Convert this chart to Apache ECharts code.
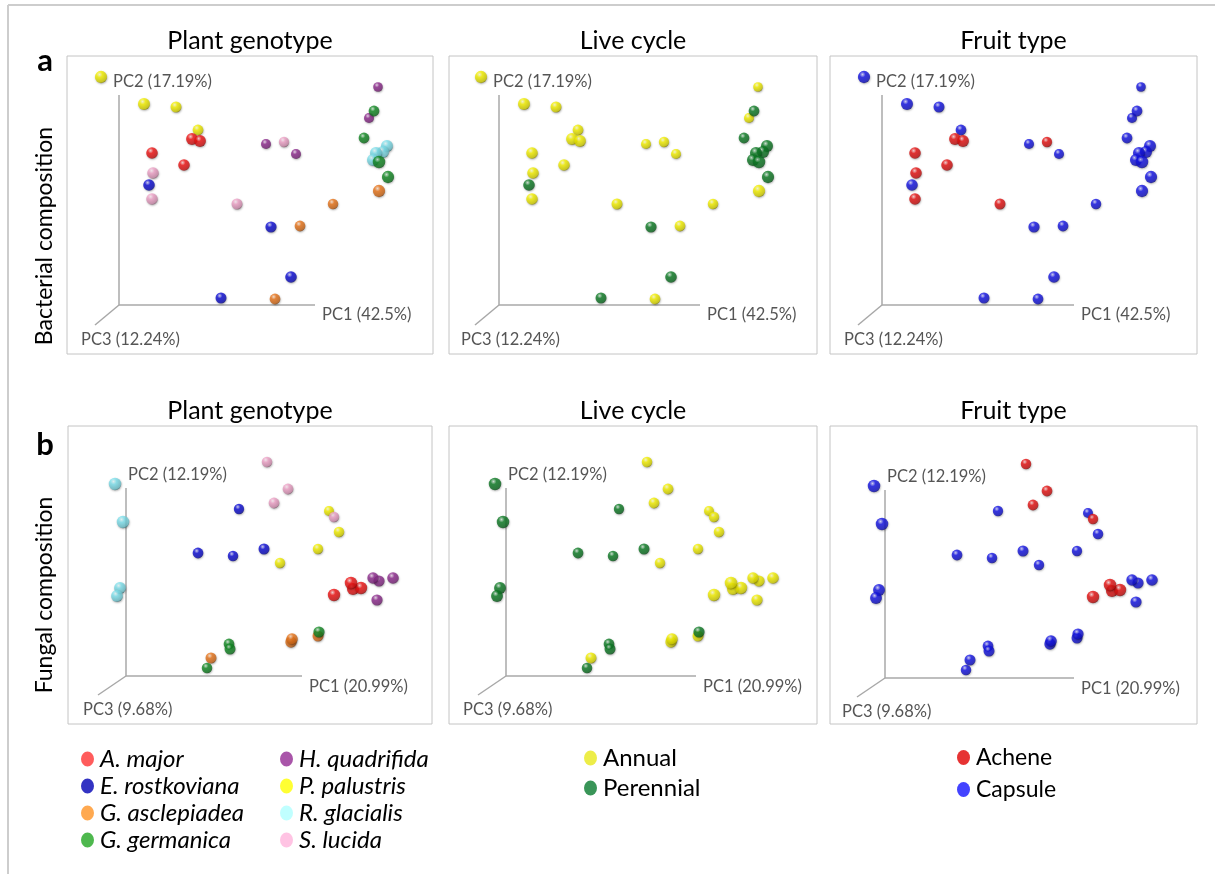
<!DOCTYPE html>
<html>
<head>
<meta charset="utf-8">
<script src="https://cdn.jsdelivr.net/npm/echarts@6/dist/echarts.min.js"></script>
<style>
  html, body { margin: 0; padding: 0; background: #ffffff; }
  #chart { width: 1215px; height: 874px; }
</style>
</head>
<body>
<div id="chart"></div>
<script>
// ---------------------------------------------------------------------------
// Host plants and their traits
// ---------------------------------------------------------------------------
const speciesNames = ['A. major', 'E. rostkoviana', 'G. asclepiadea', 'G. germanica',
                      'H. quadrifida', 'P. palustris', 'R. glacialis', 'S. lucida'];
const lifeCycleOf = {
  'A. major': 'Annual', 'E. rostkoviana': 'Perennial', 'G. asclepiadea': 'Annual',
  'G. germanica': 'Perennial', 'H. quadrifida': 'Annual', 'P. palustris': 'Annual',
  'R. glacialis': 'Perennial', 'S. lucida': 'Annual'
};
const fruitTypeOf = {
  'A. major': 'Achene', 'E. rostkoviana': 'Capsule', 'G. asclepiadea': 'Capsule',
  'G. germanica': 'Capsule', 'H. quadrifida': 'Capsule', 'P. palustris': 'Capsule',
  'R. glacialis': 'Capsule', 'S. lucida': 'Achene'
};
const lifeCycleNames = ['Annual', 'Perennial'];
const fruitTypeNames = ['Achene', 'Capsule'];

// ---------------------------------------------------------------------------
// Bacterial composition: PCoA ordination, projected onto the page plane
// (x = along PC1, y = along PC2, z = depth along PC3, larger = nearer)
// ---------------------------------------------------------------------------
const bacAxisNames = ['PC1 (42.5%)', 'PC2 (17.19%)', 'PC3 (12.24%)'];
const bacSpecies = [
  'P. palustris', 'P. palustris', 'P. palustris', 'P. palustris',
  'A. major', 'A. major', 'A. major', 'A. major',
  'S. lucida', 'E. rostkoviana', 'S. lucida', 'H. quadrifida',
  'S. lucida', 'H. quadrifida', 'S. lucida', 'E. rostkoviana',
  'G. asclepiadea', 'G. asclepiadea', 'E. rostkoviana', 'E. rostkoviana',
  'G. asclepiadea', 'H. quadrifida', 'G. germanica', 'H. quadrifida',
  'G. germanica', 'R. glacialis', 'R. glacialis', 'R. glacialis',
  'R. glacialis', 'G. germanica', 'G. germanica', 'G. asclepiadea'
];
const bacX = [-18, 25, 57, 79, 73, 81, 33, 65, 34, 30, 33, 147, 165, 177, 118, 152,
              181, 214, 172, 102, 156, 259, 255, 250, 245, 268, 264, 257, 254, 260, 269, 260];
const bacY = [228, 201, 198, 175, 166, 164, 152, 140, 132, 120, 106, 161, 163, 151, 101, 78,
              79, 101, 28, 7, 6, 218, 194, 187, 167, 159, 153, 152, 145, 143, 128, 114];
const bacZ = [3, 2.8, 1.8, 1.6, 2.6, 2.6, 2.4, 2.4, 2.4, 2.4, 2.4, 1, 1.2, 1, 1.8, 2,
              1.6, 1.4, 2.4, 1.8, 1.6, 0.6, 1.6, 1, 1.6, 2.8, 2.8, 2.8, 2.8, 3.2, 3, 3];

// ---------------------------------------------------------------------------
// Fungal composition: PCoA ordination, projected the same way
// ---------------------------------------------------------------------------
const funAxisNames = ['PC1 (20.99%)', 'PC2 (12.19%)', 'PC3 (9.68%)'];
const funSpecies = [
  'R. glacialis', 'R. glacialis', 'R. glacialis', 'R. glacialis',
  'S. lucida', 'S. lucida', 'S. lucida', 'E. rostkoviana',
  'P. palustris', 'S. lucida', 'P. palustris', 'E. rostkoviana',
  'E. rostkoviana', 'E. rostkoviana', 'P. palustris', 'P. palustris',
  'A. major', 'A. major', 'A. major', 'A. major',
  'H. quadrifida', 'H. quadrifida', 'H. quadrifida', 'H. quadrifida',
  'G. germanica', 'G. asclepiadea', 'G. asclepiadea', 'G. asclepiadea',
  'G. germanica', 'G. germanica', 'G. asclepiadea', 'G. germanica'
];
const funX = [-11, -3, -6, -9, 141, 162, 148, 113, 203, 208, 213, 72, 107, 138, 192, 154,
              225, 227, 235, 208, 247, 253, 267, 251, 193, 192, 166, 165, 103, 104, 85, 81];
const funY = [192, 154, 88, 80, 214, 187, 173, 167, 165, 159, 144, 123, 120, 127, 127, 113,
              93, 87, 88, 81, 98, 95, 98, 76, 44, 40, 37, 34, 32, 27, 18, 8];
const funZ = [3.2, 3.2, 2.6, 2.6, 1.4, 1.6, 1.6, 1.2, 1.0, 1.3, 1.4, 1.6, 1.4, 1.8, 1.2, 1.3,
              3.2, 2.8, 3.1, 3.1, 2.2, 2.0, 2.4, 2.0, 2.0, 1.8, 2.4, 2.2, 1.6, 1.8, 1.8, 1.4];

// Panel and row headings
const panelTitles = ['Plant genotype', 'Live cycle', 'Fruit type'];
const rowLetters = ['a', 'b'];
const rowTitles = ['Bacterial composition', 'Fungal composition'];

// ---------------------------------------------------------------------------
// Colours
// ---------------------------------------------------------------------------
const FONT = 'Lato, "Open Sans", "DejaVu Sans", sans-serif';
const sphereColor = {
  'A. major': '#f41414', 'E. rostkoviana': '#0c0cd8', 'G. asclepiadea': '#ec761a',
  'G. germanica': '#128c24', 'H. quadrifida': '#902c90', 'P. palustris': '#f8f400',
  'R. glacialis': '#80e4f0', 'S. lucida': '#f2a4ca',
  'Annual': '#f8f400', 'Perennial': '#0e7e26',
  'Achene': '#ea1212', 'Capsule': '#1414e8'
};
const swatchColor = {
  'A. major': '#ff3333', 'E. rostkoviana': '#0000b4', 'G. asclepiadea': '#ff9424',
  'G. germanica': '#22a622', 'H. quadrifida': '#932a93', 'P. palustris': '#ffff00',
  'R. glacialis': '#b0ffff', 'S. lucida': '#ffb4dc',
  'Annual': '#e8e81a', 'Perennial': '#087a2e',
  'Achene': '#e00000', 'Capsule': '#1414ff'
};

function parseHex(h) {
  return [1, 3, 5].map(i => parseInt(h.slice(i, i + 2), 16));
}
function mix(c1, c2, t) {
  const a = parseHex(c1), b = parseHex(c2);
  return 'rgb(' + a.map((v, i) => Math.round(v + (b[i] - v) * t)).join(',') + ')';
}
// Shaded ball: light spot upper-left, darker rim
function sphere(c) {
  return {
    type: 'radial', x: 0.38, y: 0.3, r: 0.74,
    colorStops: [
      { offset: 0, color: mix(c, '#ffffff', 0.8) },
      { offset: 0.32, color: c },
      { offset: 0.84, color: mix(c, '#000000', 0.18) },
      { offset: 1, color: mix(c, '#000000', 0.55) }
    ]
  };
}

// ---------------------------------------------------------------------------
// Layout (pixels)
// ---------------------------------------------------------------------------
const panelLeft = [[67, 449, 830], [68, 449, 830]];
const panelWidth = [[366, 368, 367], [364, 368, 367]];
const rowTop = [56, 426];
const panelHeight = 298;
const originInPanel = [[[52, 249], [50, 249], [52, 249]], [[58, 250], [57, 250], [55, 252]]];
const pc1Length = [[196, 201, 192], [176, 190, 189]];
const pc2Length = [210, 188];
const pc3End = [[-24, -20], [-28, -19]];
// axis-name anchors relative to the axes (left edge of text, vertical middle)
const pc2LabelAt = [[-6, 223], [2, 201]];
const pc1LabelDy = [-10, -11];
const pc3LabelAt = [[-38, -35], [-43, -34]];

// Draw order of colour groups (later groups sit on top)
const speciesDrawOrder = ['R. glacialis', 'G. asclepiadea', 'P. palustris', 'E. rostkoviana',
                          'A. major', 'H. quadrifida', 'G. germanica', 'S. lucida'];
const schemes = [
  { key: s => s, order: speciesDrawOrder },
  { key: s => lifeCycleOf[s], order: ['Annual', 'Perennial'] },
  { key: s => fruitTypeOf[s], order: ['Capsule', 'Achene'] }
];

const rows = [
  { species: bacSpecies, x: bacX, y: bacY, z: bacZ, axisNames: bacAxisNames },
  { species: funSpecies, x: funX, y: funY, z: funZ, axisNames: funAxisNames }
];

const grids = [], xAxes = [], yAxes = [], series = [];

rows.forEach((row, r) => {
  schemes.forEach((scheme, c) => {
    const g = r * 3 + c;
    const [ox, oy] = originInPanel[r][c];
    const w = panelWidth[r][c];
    grids.push({
      left: panelLeft[r][c], top: rowTop[r], width: w, height: panelHeight,
      show: true, borderColor: '#c4c4c4', borderWidth: 1, backgroundColor: '#ffffff'
    });
    xAxes.push({ gridIndex: g, type: 'value', min: -ox, max: w - ox, show: false });
    yAxes.push({ gridIndex: g, type: 'value', min: -(panelHeight - oy), max: oy, show: false });

    // the three ordination axes
    series.push({
      type: 'lines', coordinateSystem: 'cartesian2d', xAxisIndex: g, yAxisIndex: g,
      silent: true, z: 1,
      lineStyle: { color: '#a8a8a8', width: 1.5, opacity: 1 },
      data: [
        { coords: [[0, 0], [0, pc2Length[r]]] },
        { coords: [[0, 0], [pc1Length[r][c], 0]] },
        { coords: [[0, 0], pc3End[r]] }
      ]
    });

    // samples, one series per colour group, nearer samples drawn last
    scheme.order.forEach(cat => {
      const idx = row.species.map((s, i) => i).filter(i => scheme.key(row.species[i]) === cat);
      idx.sort((a, b) => row.z[a] - row.z[b]);
      series.push({
        type: 'scatter', name: cat, xAxisIndex: g, yAxisIndex: g, z: 3, silent: true,
        symbol: 'circle',
        symbolSize: v => 9 + 1.1 * v[2],
        itemStyle: {
          color: sphere(sphereColor[cat]),
          shadowBlur: 2, shadowColor: 'rgba(0,0,0,0.35)', shadowOffsetX: 0.5, shadowOffsetY: 1
        },
        data: idx.map(i => [row.x[i], row.y[i], row.z[i]])
      });
    });
  });
});

const ELLIPSE = 'path://M7,0A7,8 0 1,1 7,16A7,8 0 1,1 7,0Z';
const legendText = { fontFamily: FONT, fontSize: 24, color: '#000000', padding: [0, 0, 0, 1] };
const legendBase = {
  orient: 'vertical', itemWidth: 13, itemHeight: 15, icon: ELLIPSE, selectedMode: false,
  itemStyle: { shadowBlur: 0, shadowColor: 'rgba(0,0,0,0)', borderWidth: 0 }
};
const swatch = n => ({ name: n, itemStyle: { color: swatchColor[n] } });
const italic = Object.assign({}, legendText, { fontStyle: 'italic' });
const legends = [
  Object.assign({}, legendBase, { left: 76, top: 742, itemGap: 3, textStyle: italic,
    data: speciesNames.slice(0, 4).map(swatch) }),
  Object.assign({}, legendBase, { left: 275, top: 742, itemGap: 3, textStyle: italic,
    data: speciesNames.slice(4).map(swatch) }),
  Object.assign({}, legendBase, { left: 579, top: 741, itemGap: 6,
    textStyle: legendText, data: lifeCycleNames.map(swatch) }),
  Object.assign({}, legendBase, { left: 952, top: 741, itemGap: 9,
    textStyle: Object.assign({}, legendText, { fontSize: 23 }), data: fruitTypeNames.map(swatch) })
];

const chart = echarts.init(document.getElementById('chart'), null, { renderer: 'canvas' });
chart.setOption({
  animation: false,
  backgroundColor: '#ffffff',
  grid: grids, xAxis: xAxes, yAxis: yAxes,
  legend: legends,
  series: series
});

// Text and frame, positioned through the panels' coordinate systems
const graphics = [
  { type: 'line', shape: { x1: 8, y1: 5, x2: 1215, y2: 5 }, style: { stroke: '#cdcdcd', lineWidth: 2 }, silent: true },
  { type: 'line', shape: { x1: 8, y1: 5, x2: 8, y2: 874 }, style: { stroke: '#cdcdcd', lineWidth: 2 }, silent: true }
];
const titleY = [41, 411];
const letterY = [61, 445];
const sideY = [236, 595];
rows.forEach((row, r) => {
  graphics.push({ type: 'text', x: 45, y: letterY[r], silent: true,
    style: { text: rowLetters[r], font: 'bold 31px ' + FONT, fill: '#000', align: 'center', verticalAlign: 'middle' } });
  graphics.push({ type: 'text', x: 45, y: sideY[r], rotation: Math.PI / 2, silent: true,
    style: { text: rowTitles[r], font: '23px ' + FONT, fill: '#000', align: 'center', verticalAlign: 'middle' } });
  for (let c = 0; c < 3; c++) {
    const g = r * 3 + c;
    graphics.push({ type: 'text', x: panelLeft[r][c] + panelWidth[r][c] / 2, y: titleY[r], silent: true,
      style: { text: panelTitles[c], font: '25px ' + FONT, fill: '#000', align: 'center', verticalAlign: 'middle' } });
    const anchors = [
      [pc1Length[r][c] + 7, pc1LabelDy[r]],
      pc2LabelAt[r],
      pc3LabelAt[r]
    ];
    anchors.forEach((a, k) => {
      const p = chart.convertToPixel({ gridIndex: g }, a);
      graphics.push({ type: 'text', x: p[0], y: p[1], silent: true,
        style: { text: row.axisNames[k], font: '16.5px ' + FONT, fill: '#555555', align: 'left', verticalAlign: 'middle' } });
    });
  }
});
chart.setOption({ graphic: graphics });
</script>
</body>
</html>
